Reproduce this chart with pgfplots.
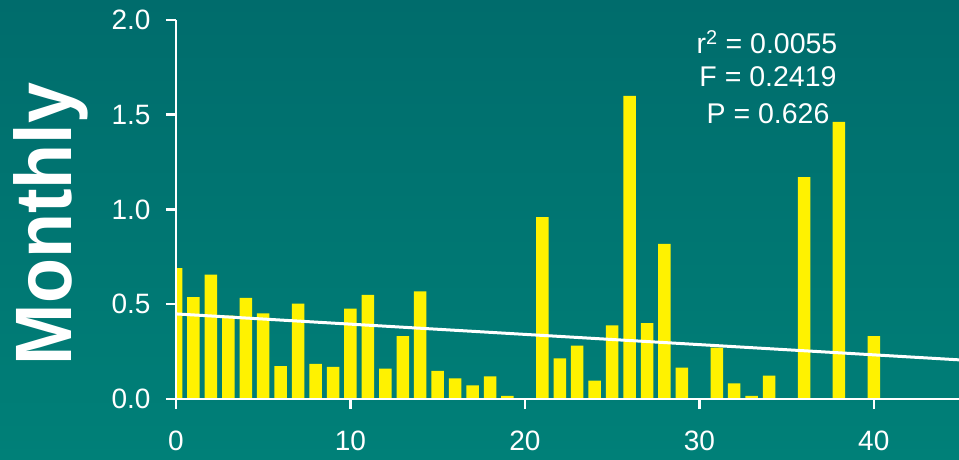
\documentclass[border=0pt]{standalone}
\usepackage{graphicx}
\usepackage{pgfplots}
\pgfplotsset{compat=1.18}
\usepackage{fontspec}
\setmainfont{Liberation Sans}
\definecolor{bgtop}{HTML}{006C6C}
\definecolor{bgbot}{HTML}{008078}
\begin{document}
\begin{tikzpicture}
\useasboundingbox (0pt,0pt) rectangle (959pt,460pt);
\shade[top color=bgtop, bottom color=bgbot] (0pt,0pt) rectangle (959pt,460pt);
\begin{axis}[
  at={(176pt,61pt)}, anchor=south west,
  scale only axis, width=785pt, height=379pt,
  xmin=0, xmax=45, ymin=0, ymax=2,
  axis lines=left,
  every outer x axis line/.append style={-},
  every outer y axis line/.append style={-},
  axis line style={-, white, line width=2.5pt},
  xtick={0,10,20,30,40},
  ytick={0,0.5,1,1.5,2},
  tick align=outside,
  major tick length=10pt,
  every tick/.append style={white, line width=2.5pt},
  /pgf/number format/assume math mode=true,
  yticklabel style={xshift=-12pt, /pgf/number format/fixed, /pgf/number format/fixed zerofill, /pgf/number format/precision=1},
  xticklabel style={yshift=-18pt},
  ticklabel style={font=\fontsize{28}{30}\selectfont, text=white},
  axis on top=true,
  clip=true,
  clip marker paths=false,
]
\addplot[ybar, bar width=12.5pt, bar shift=0pt, fill=yellow, draw=none] coordinates {
(0,0.69) (1,0.537) (2,0.656) (3,0.44) (4,0.533) (5,0.452) (6,0.174) (7,0.503)
(8,0.185) (9,0.169) (10,0.477) (11,0.549) (12,0.16) (13,0.332) (14,0.568)
(15,0.148) (16,0.109) (17,0.072) (18,0.12) (19,0.017) (21,0.96) (22,0.215)
(23,0.281) (24,0.097) (25,0.389) (26,1.6) (27,0.4) (28,0.818) (29,0.165)
(31,0.271) (32,0.083) (33,0.017) (34,0.123) (36,1.171) (38,1.462) (40,0.332)
};
\addplot[sharp plot, no marks, white, line width=3pt] coordinates {(0,0.449) (45,0.206)};
% tick marks drawn as plot marks on the axes
\addplot[only marks, mark=|, mark size=5pt, mark options={draw=white, line width=2.5pt, yshift=-5pt}] coordinates {(0,0) (10,0) (20,0) (30,0) (40,0)};
\addplot[only marks, mark=-, mark size=5pt, mark options={draw=white, line width=2.5pt, xshift=-5pt}] coordinates {(0,0) (0,0.5) (0,1) (0,1.5) (0,2)};
\end{axis}
\node[text=white, font=\fontsize{28.5}{30}\selectfont] at (767pt,418pt) {r\textsuperscript{2} = 0.0055};
\node[text=white, font=\fontsize{28.5}{30}\selectfont] at (768pt,383pt) {F = 0.2419};
\node[text=white, font=\fontsize{28.5}{30}\selectfont] at (768pt,346pt) {P = 0.626};
\node[rotate=90, anchor=base, inner sep=0pt, text=white, font=\fontsize{80}{80}\selectfont\bfseries] at (72pt,236pt) {\scalebox{0.92}[1]{Monthly}};
\end{tikzpicture}
\end{document}
